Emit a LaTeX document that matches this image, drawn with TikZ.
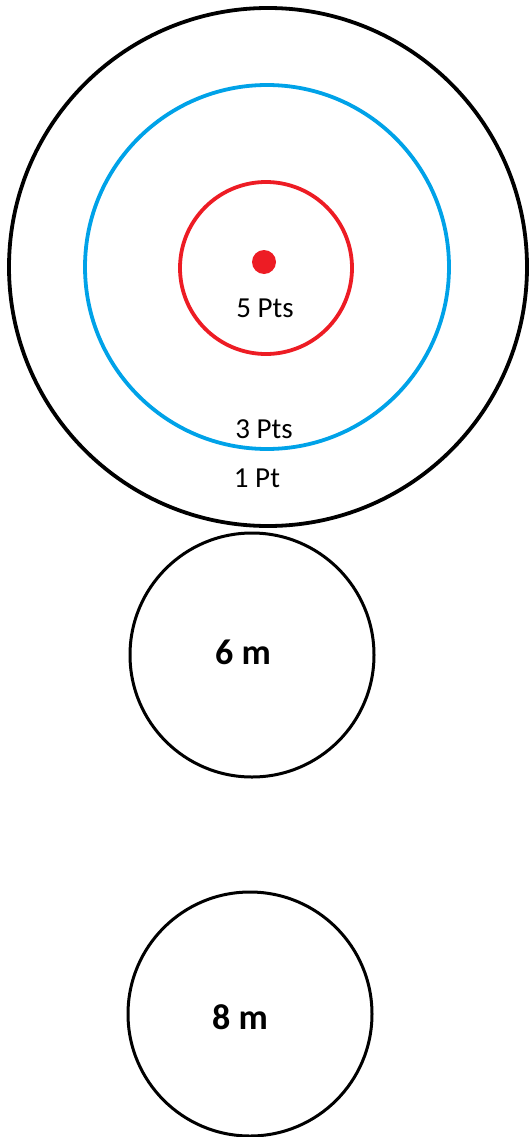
\documentclass[tikz,border=0pt]{standalone}
\usepackage{fontspec}
\setmainfont{Carlito}
\usepackage{tikz}
\definecolor{ringred}{HTML}{ED1C24}
\definecolor{ringblue}{HTML}{00A2E8}
\tikzstyle{ring} = [
    circle,
    line width=3.8pt,
    inner sep=0pt
    ]
\tikzstyle{throw} = [
    circle,
    draw=black,
    line width=3pt,
    minimum size=244pt,
    inner sep=0pt
    ]
\tikzstyle{ptlabel} = [
    font=\fontsize{29}{29}\selectfont,
    anchor=base,
    inner sep=0pt
    ]
\tikzstyle{distlabel} = [
    font=\fontsize{36}{36}\selectfont\bfseries,
    anchor=base,
    inner sep=0pt
    ]

\begin{document}
\begin{tikzpicture}[x=1pt,y=-1pt]
\useasboundingbox (0,0) rectangle (528,1137);
\node [ring, draw=black, minimum size=518pt] (outer) at (268,267) {};
\node [ring, draw=ringblue, minimum size=364pt] (middle) at (267,267) {};
\node [ring, draw=ringred, minimum size=172pt] (inner) at (266,268) {};
\node [circle, fill=ringred, minimum size=24pt, inner sep=0pt] (bull) at (264,262) {};
\node [ptlabel] (five) at (265,317) {5 Pts};
\node [ptlabel] (three) at (264,438) {3 Pts};
\node [ptlabel] (one) at (257,487) {1 Pt};
\node [throw] (near) at (252,655) {};
\node [distlabel] (six) at (243,664) {6 m};
\node [throw] (far) at (250,1014) {};
\node [distlabel] (eight) at (240,1029) {8 m};
\end{tikzpicture}
\end{document}
